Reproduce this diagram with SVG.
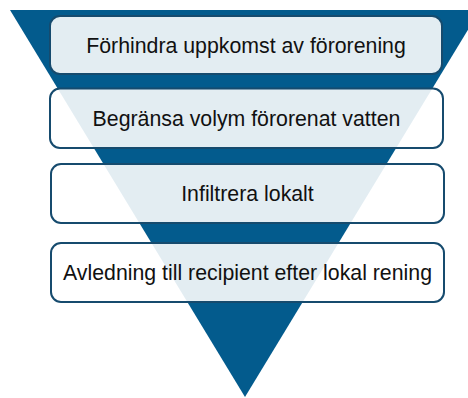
<svg xmlns="http://www.w3.org/2000/svg" width="468" height="398" viewBox="0 0 468 398">
  <style>
    .box { fill: #ffffff; fill-opacity: 0.89; stroke: #164B6E; stroke-width: 2; }
    .lbl { font-family: "Liberation Sans", Arial, sans-serif; font-size: 21.3px; fill: #111111; text-anchor: middle; }
  </style>
  <rect x="0" y="0" width="468" height="398" fill="#ffffff"/>
  <g id="funnel">
    <polygon points="10,10 480,10 245,397" fill="#035B8D"/>
  </g>
  <g id="connectors"/>
  <g id="n1">
    <rect class="box" x="50" y="16" width="392" height="58" rx="10"/>
    <text class="lbl" x="246" y="52.5">Förhindra uppkomst av förorening</text>
  </g>
  <g id="n2">
    <rect class="box" x="50" y="88.5" width="393" height="59.5" rx="10"/>
    <text class="lbl" x="246.5" y="125.8">Begränsa volym förorenat vatten</text>
  </g>
  <g id="n3">
    <rect class="box" x="51" y="164" width="393" height="59" rx="10"/>
    <text class="lbl" x="247.5" y="201.3">Infiltrera lokalt</text>
  </g>
  <g id="n4">
    <rect class="box" x="51" y="243" width="393" height="59" rx="10"/>
    <text class="lbl" x="247.5" y="279.8">Avledning till recipient efter lokal rening</text>
  </g>
</svg>
